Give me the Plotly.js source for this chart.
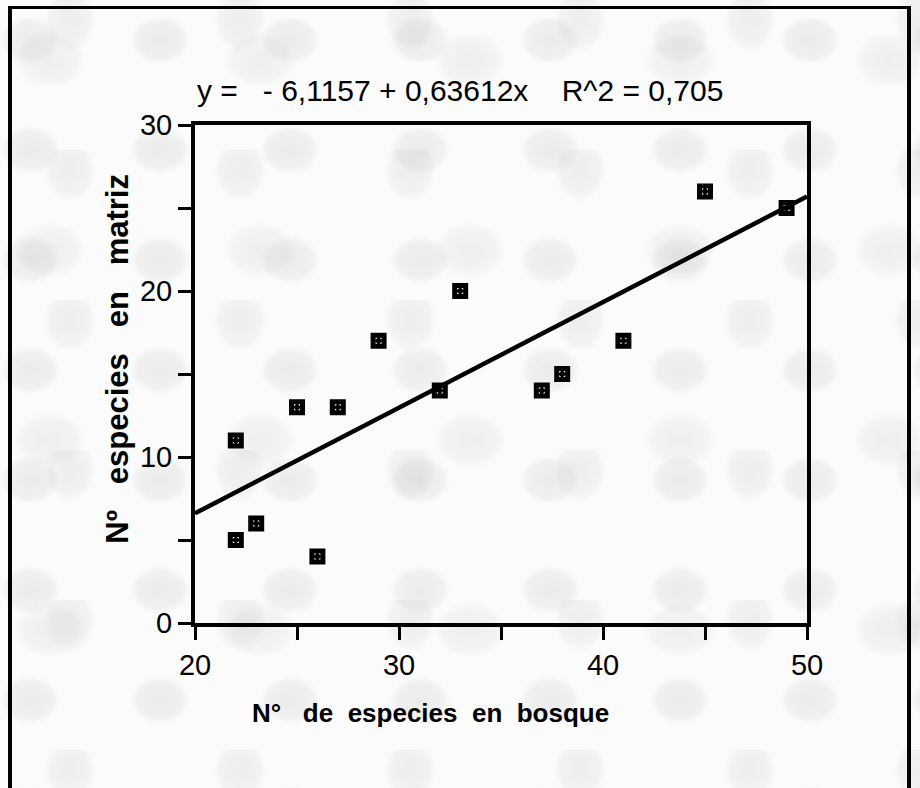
<!DOCTYPE html>
<html>
<head>
<meta charset="utf-8">
<script src="https://cdn.plot.ly/plotly-3.0.1.min.js"></script>
<style>
  html, body { margin:0; padding:0; width:920px; height:788px; overflow:hidden; background:#ffffff; }
  #bg { position:absolute; left:0; top:0; width:920px; height:788px;
    background-color:#fbfbfb;
    background-image:
      radial-gradient(ellipse 30px 24px at 30px 40px, rgba(150,150,150,0.17) 0%, rgba(150,150,150,0.10) 75%, rgba(0,0,0,0) 100%),
      radial-gradient(ellipse 26px 32px at 70px 20px, rgba(150,150,150,0.14) 0%, rgba(150,150,150,0.08) 75%, rgba(0,0,0,0) 100%),
      radial-gradient(ellipse 36px 28px at 50px 60px, rgba(150,150,150,0.12) 0%, rgba(150,150,150,0.07) 75%, rgba(0,0,0,0) 100%);
    background-size: 130px 110px, 170px 150px, 210px 190px;
  }
  #frame { position:absolute; left:8px; top:6px; width:903px; height:820px; box-sizing:border-box;
    border-left:4px solid #000; border-top:3px solid #000; border-right:4px solid #000; }
  #chart { position:absolute; left:0; top:0; width:920px; height:788px; }
</style>
</head>
<body>
<div id="bg"></div>
<div id="frame"></div>
<div id="chart"></div>
<script>
// Data
const bosque = [22, 22, 23, 25, 26, 27, 29, 32, 33, 37, 38, 41, 45, 49];
const matriz = [11, 5, 6, 13, 4, 13, 17, 14, 20, 14, 15, 17, 26, 25];
const intercept = -6.1157;
const slope = 0.63612;
const xRange = [20, 50];
const yRange = [0, 30];
const xTickVals = [20, 25, 30, 35, 40, 45, 50];
const xTickText = ['20', '', '30', '', '40', '', '50'];
const yTickVals = [0, 5, 10, 15, 20, 25, 30];
const yTickText = ['0', '', '10', '', '20', '', '30'];
const equationText = 'y =\u00A0\u00A0 - 6,1157 + 0,63612x\u00A0\u00A0\u00A0 R^2 = 0,705';
const xTitle = 'N°\u00A0\u00A0 de\u00A0 especies\u00A0 en\u00A0 bosque';
const yTitle = 'Nº\u00A0\u00A0 especies\u00A0\u00A0 en\u00A0\u00A0 matriz';

const fitX = xRange.slice();
const fitY = fitX.map(x => intercept + slope * x);

const traces = [
  { x: fitX, y: fitY, mode: 'lines', line: { color: '#000', width: 4.5 }, hoverinfo: 'skip', showlegend: false, cliponaxis: false },
  { x: bosque, y: matriz, mode: 'markers', showlegend: false, cliponaxis: false,
    marker: { symbol: 'square-open-dot', size: 11, color: '#000', line: { color: '#000', width: 5 } } }
];

const fam = '"Liberation Sans", Arial, sans-serif';

const layout = {
  width: 920, height: 788,
  margin: { l: 195, r: 113, t: 125, b: 165 },
  paper_bgcolor: 'rgba(0,0,0,0)', plot_bgcolor: 'rgba(0,0,0,0)',
  font: { family: fam, color: '#000' },
  xaxis: { range: xRange, tickvals: xTickVals, ticktext: xTickText, showgrid: false, zeroline: false,
    showline: true, linecolor: '#000', linewidth: 4, mirror: true,
    ticks: 'outside', ticklen: 13, tickwidth: 3, tickcolor: '#000',
    tickfont: { family: fam, size: 29, color: '#000' } },
  yaxis: { range: yRange, tickvals: yTickVals, ticktext: yTickText, showgrid: false, zeroline: false,
    showline: true, linecolor: '#000', linewidth: 4, mirror: true,
    ticks: 'outside', ticklen: 13, tickwidth: 3, tickcolor: '#000',
    tickfont: { family: fam, size: 29, color: '#000' } },
  annotations: [
    { text: equationText, xref: 'paper', yref: 'paper', x: 0, y: 1.07, xanchor: 'left', yanchor: 'middle',
      showarrow: false, font: { family: fam, size: 30, color: '#000' } },
    { text: '<b>' + xTitle + '</b>', xref: 'paper', yref: 'paper', x: 0.385, y: -0.181, xanchor: 'center', yanchor: 'middle',
      showarrow: false, font: { family: fam, size: 26, color: '#000' } },
    { text: '<b>' + yTitle + '</b>', xref: 'paper', yref: 'paper', x: -0.128, y: 0.53, xanchor: 'center', yanchor: 'middle',
      textangle: -90, showarrow: false, font: { family: fam, size: 31, color: '#000' } }
  ]
};

Plotly.newPlot('chart', traces, layout, { staticPlot: true, displayModeBar: false });
</script>
</body>
</html>
